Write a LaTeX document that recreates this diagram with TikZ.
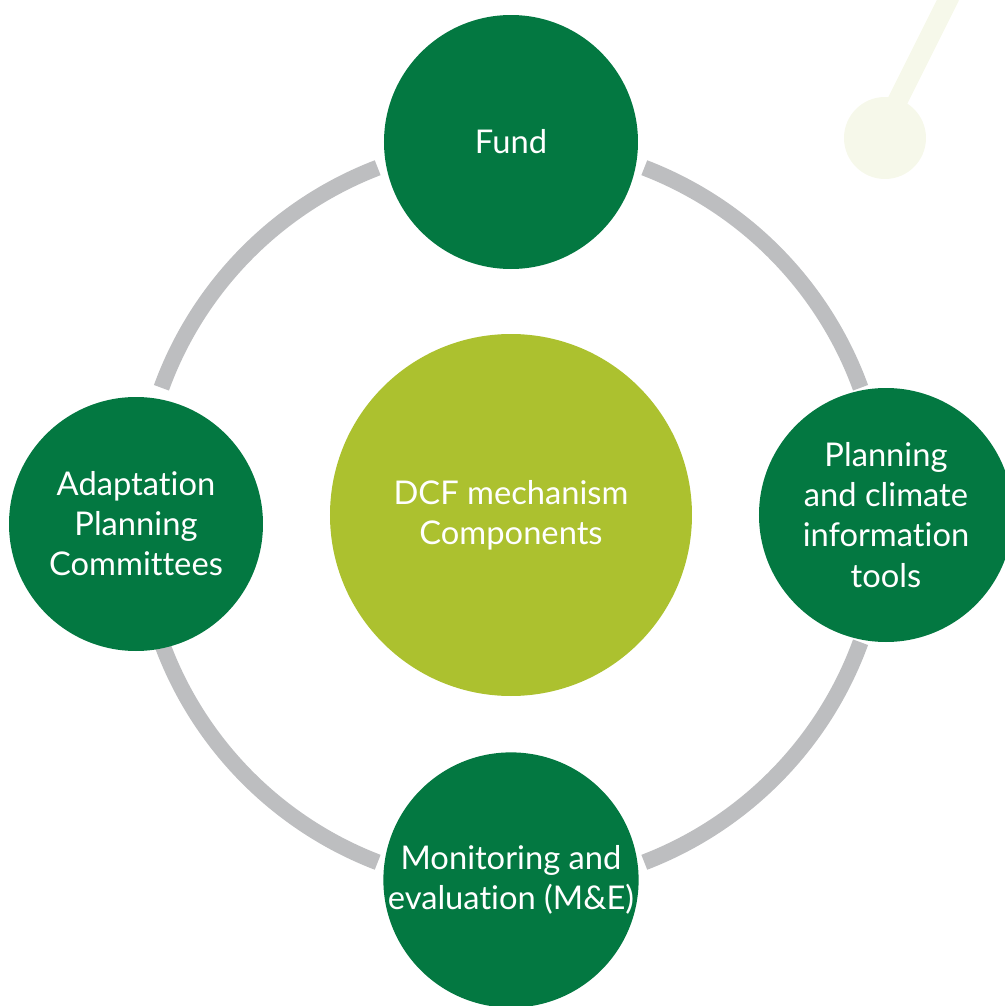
\documentclass[tikz,border=0pt]{standalone}
\usepackage{fontspec}
\setmainfont{Lato}[Ligatures=NoCommon]
\usepackage{xcolor}
\usetikzlibrary{positioning,calc}
\definecolor{dGreen}{HTML}{037841}
\definecolor{lGreen}{HTML}{ACC12F}
\definecolor{rGray}{HTML}{BDBEC0}
\definecolor{pale}{HTML}{F6F8EA}
\tikzset{
  part/.style={circle, fill=dGreen, minimum size=2.54cm, inner sep=0pt, text=white, align=center, font=\fontsize{9.3}{11.4}\selectfont},
  hub/.style={circle, fill=lGreen, minimum size=3.62cm, inner sep=0pt, text=white, align=center, font=\fontsize{9.3}{11.4}\selectfont},
  ring/.style={rGray, line width=0.16cm},
}

\begin{document}
\begin{tikzpicture}
\useasboundingbox (0,0) rectangle (10.05,10.06);
% faint pin in the corner
\draw[pale, line width=0.2cm] (9.5,10.1) -- (8.9,8.9);
\fill[pale] (8.85,8.68) circle (0.41);
% ring pieces between the parts
\coordinate (c) at (5.11,4.91);
\foreach \a in {20,111,200,291}
  \draw[ring] ($(c)+(\a:3.72)$) arc[start angle=\a, end angle=\a+49, radius=3.72];
\node[hub] (dcf) at (c) {DCF mechanism\\Components};
\node[part] (fund) at (5.11,8.64) {Fund};
\node[part] (tools) at (8.86,4.91) {Planning\\and climate\\information\\tools};
\node[part] (me) at (5.11,1.26) {Monitoring and\\evaluation (M\&E)};
\node[part] (apc) at (1.36,4.82) {Adaptation\\Planning\\Committees};
\end{tikzpicture}
\end{document}
